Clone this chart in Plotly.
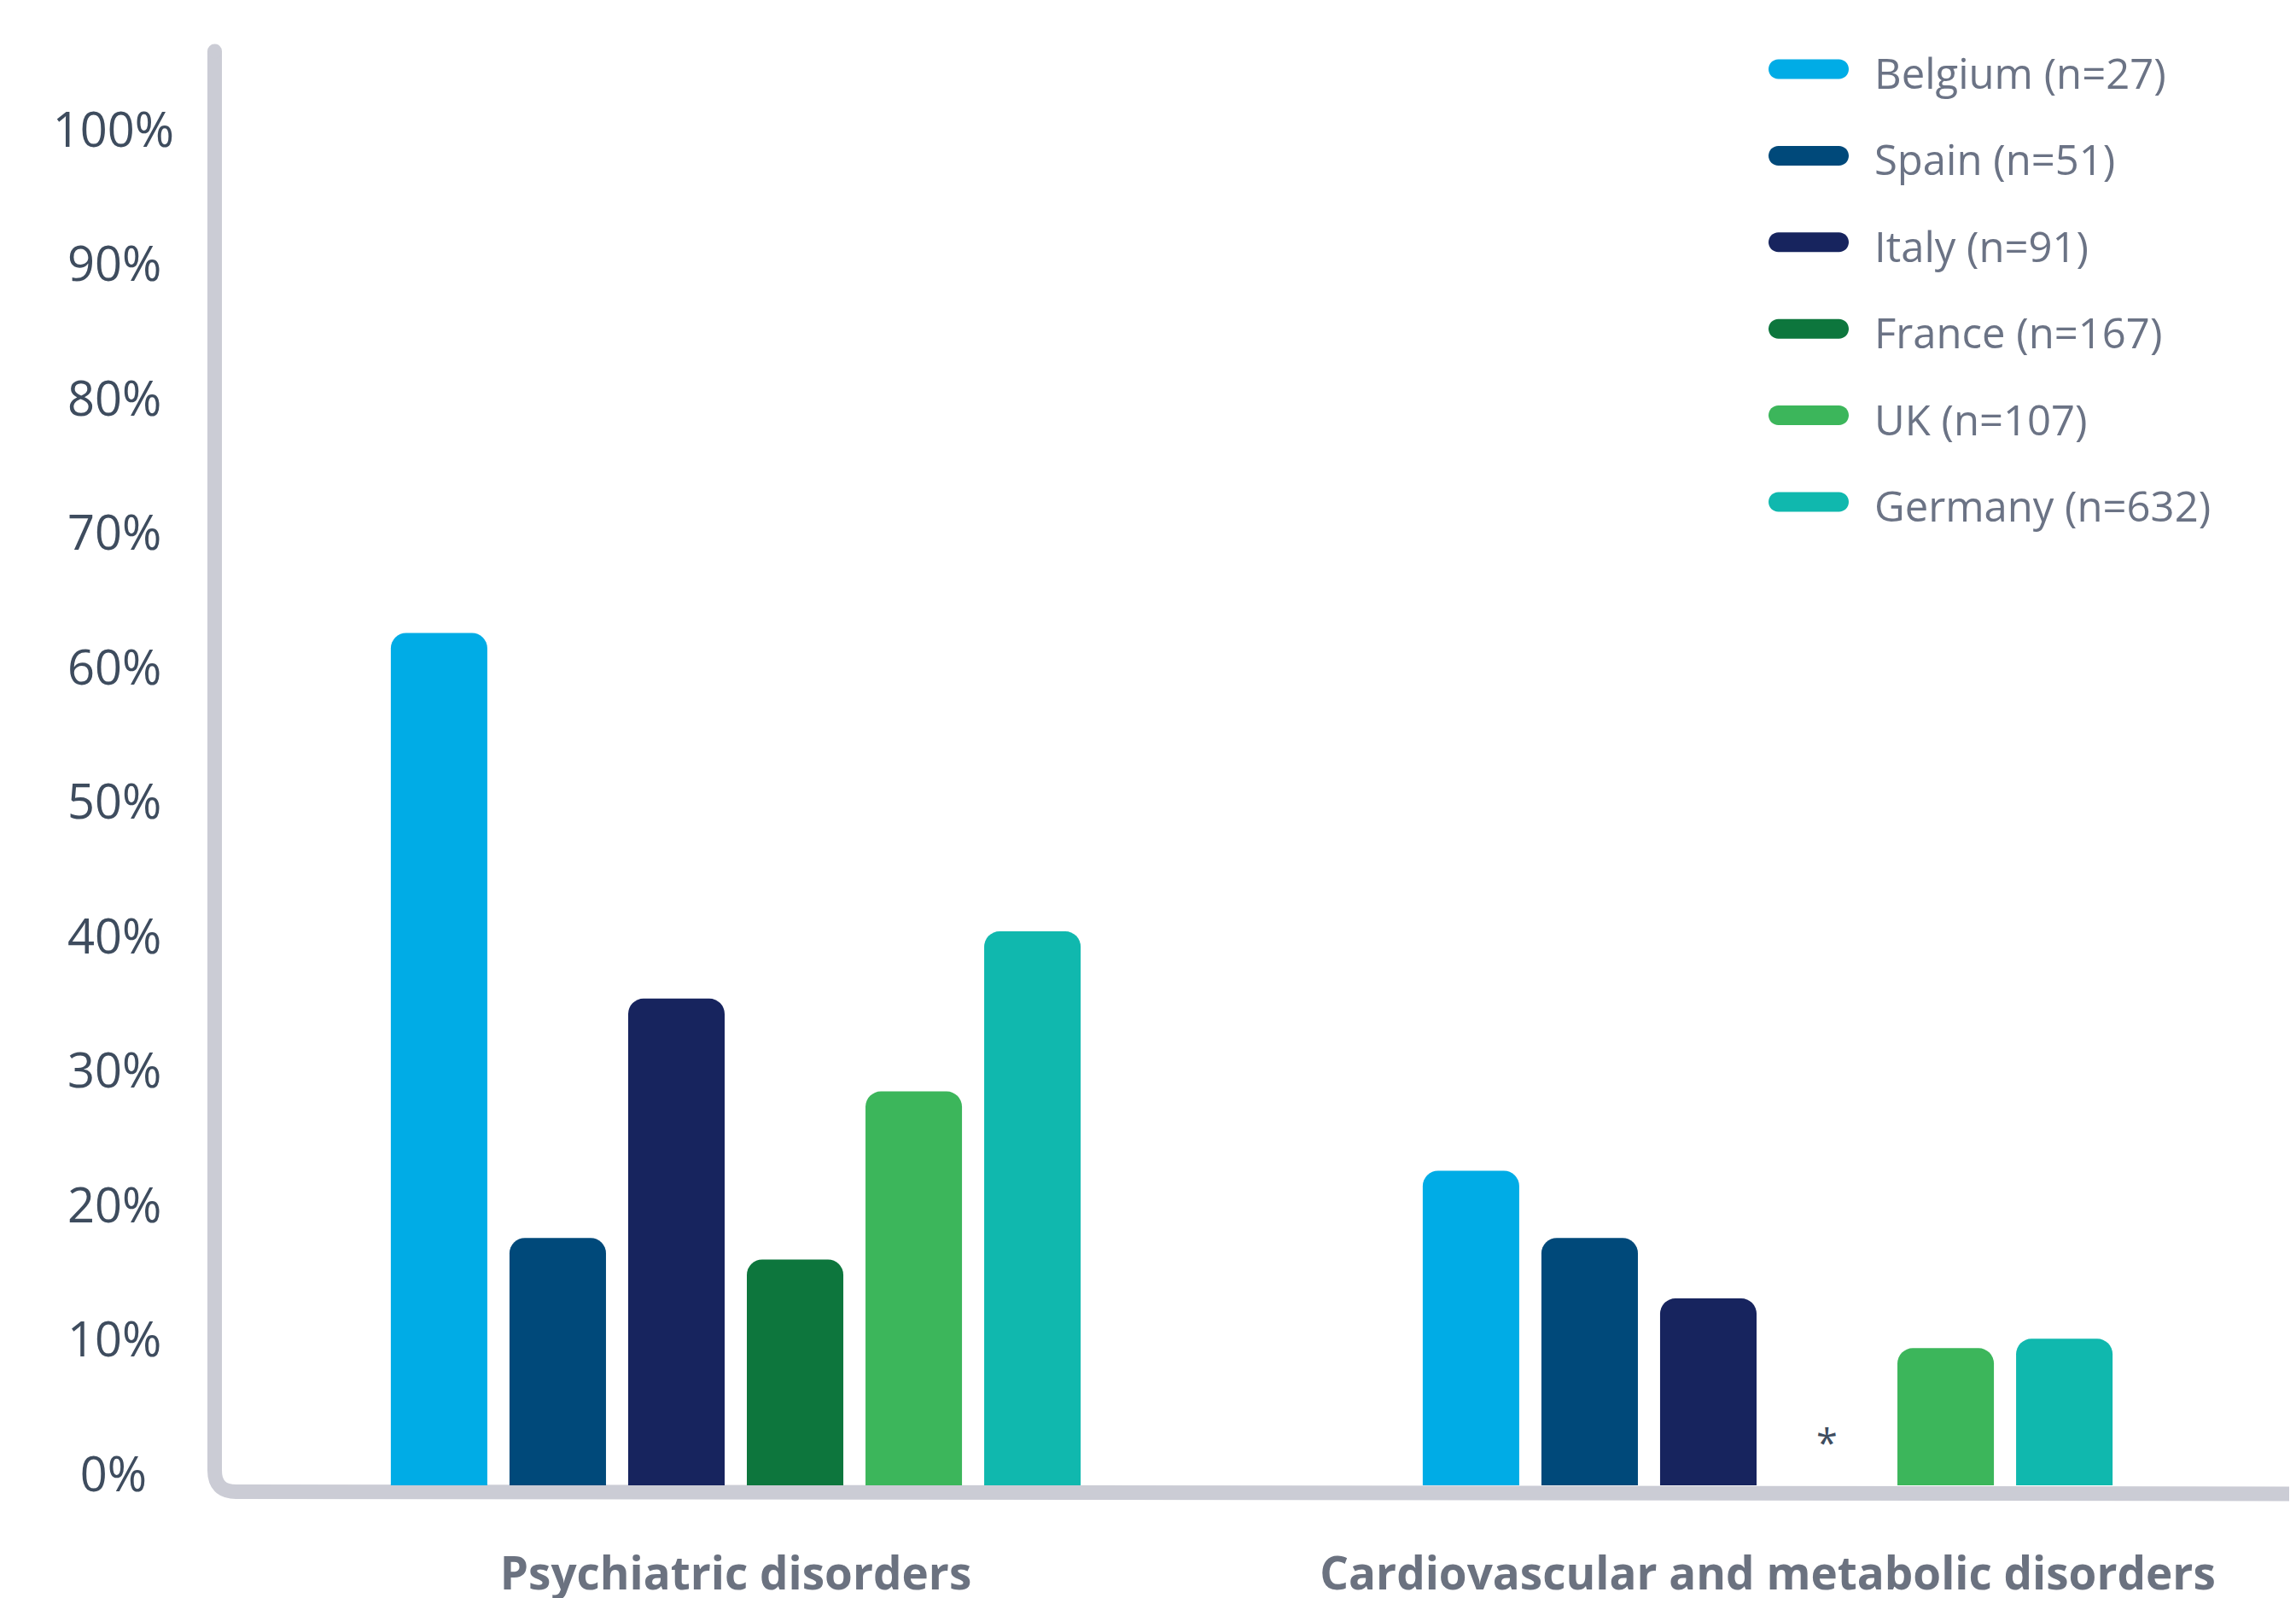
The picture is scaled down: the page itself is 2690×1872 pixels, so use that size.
import plotly.graph_objects as go

# ---------------- data ----------------
categories = ["Psychiatric disorders", "Cardiovascular and metabolic disorders"]
countries = ["Belgium", "Spain", "Italy", "France", "UK", "Germany"]
sample_sizes = [27, 51, 91, 167, 107, 632]
colors = ["#00ACE6", "#00497A", "#17245E", "#0D763D", "#3CB65B", "#10B8AE"]
psychiatric = [63.4, 18.4, 36.2, 16.8, 29.3, 41.2]
cardiometabolic = [23.4, 18.4, 13.9, None, 10.2, 10.9]
missing_marker = "*"          # shown where a value is not reported (France, cardio)
y_tickvals = [0, 10, 20, 30, 40, 50, 60, 70, 80, 90, 100]
y_ticktext = ["0%\u2007", "10%\u2008", "20%\u2008", "30%\u2008", "40%\u2008", "50%\u2008",
              "60%\u2008", "70%\u2008", "80%\u2008", "90%\u2008", "100%"]

# ---------------- layout geometry (pixels, page coordinates) ----------------
W, H = 2690, 1872
OFF = 8                        # page body margin offset
PLOT_LEFT, PLOT_TOP, PLOT_BOTTOM = 252, 30, 1740
ML = PLOT_LEFT - OFF
MT = PLOT_TOP - OFF
MB = H - (PLOT_BOTTOM - OFF)
MR = 0
PW, PH = W - ML - MR, H - MT - MB
PX_PER_CAT = 1209
FIRST_CAT_PX = 862
PX_PER_PCT = 15.75
BARGAP, BARGROUPGAP = 0.31, 0.187

x_lo = -(FIRST_CAT_PX - PLOT_LEFT) / PX_PER_CAT
x_hi = x_lo + PW / PX_PER_CAT
y_hi = PH / PX_PER_PCT

AXIS_COLOR = "#CBCCD5"
TICK_COLOR = "#3E4C5E"
LEG_COLOR = "#6B7385"
CAT_COLOR = "#6B7280"
FONT = "Open Sans"


def px(xp):
    return (xp - PLOT_LEFT) / PW


def py(yp):
    return (PLOT_BOTTOM - yp) / PH


fig = go.Figure()
for i, c in enumerate(countries):
    fig.add_trace(go.Bar(
        name=f"{c} (n={sample_sizes[i]})",
        x=categories,
        y=[psychiatric[i], cardiometabolic[i]],
        marker=dict(color=colors[i], line=dict(width=0), cornerradius=18),
        showlegend=False,
        hovertemplate="%{x}<br>" + c + ": %{y:.1f}%<extra></extra>",
    ))

shapes = []
# axis line with rounded corner
ax_x, ax_top, ax_y, r = 251.5, 60, 1747.5, 25
path = (f"M {px(ax_x)},{py(ax_top)} L {px(ax_x)},{py(ax_y - r)} "
        f"Q {px(ax_x)},{py(ax_y)} {px(ax_x + r)},{py(ax_y)} L {px(W + 20)},{py(ax_y + 2.5)}")
shapes.append(dict(type="path", path=path, xref="paper", yref="paper",
                   line=dict(color=AXIS_COLOR, width=17), layer="below"))
shapes.append(dict(type="circle", xref="paper", yref="paper",
                   x0=px(ax_x - 8.5), x1=px(ax_x + 8.5), y0=py(ax_top - 8.5), y1=py(ax_top + 8.5),
                   fillcolor=AXIS_COLOR, line=dict(width=0), layer="below"))

annotations = []
# custom legend with pill-shaped keys
LX0, LX1, LY0, LDY, LR = 2072, 2166, 81, 101.4, 11.5
k = 0.552 * LR
for i, c in enumerate(countries):
    cy = LY0 + i * LDY
    t, b = cy - LR, cy + LR
    pts = [
        ("M", [(LX0 + LR, t)]),
        ("L", [(LX1 - LR, t)]),
        ("C", [(LX1 - LR + k, t), (LX1, cy - k), (LX1, cy)]),
        ("C", [(LX1, cy + k), (LX1 - LR + k, b), (LX1 - LR, b)]),
        ("L", [(LX0 + LR, b)]),
        ("C", [(LX0 + LR - k, b), (LX0, cy + k), (LX0, cy)]),
        ("C", [(LX0, cy - k), (LX0 + LR - k, t), (LX0 + LR, t)]),
    ]
    d = " ".join(cmd + " " + " ".join(f"{px(a)},{py(bb)}" for a, bb in p) for cmd, p in pts) + " Z"
    shapes.append(dict(type="path", path=d, xref="paper", yref="paper",
                       fillcolor=colors[i], line=dict(width=0)))
    annotations.append(dict(
        text=f"{c} (n={sample_sizes[i]})", xref="paper", yref="paper",
        x=px(2194), y=py(cy + 4), xanchor="left", yanchor="middle", showarrow=False,
        font=dict(family=FONT, size=49, color=LEG_COLOR)))

# marker for the unreported value
fr = countries.index("France")
annotations.append(dict(
    text=missing_marker, xref="x", yref="y",
    x=1 + (fr - 2.5) * (1 - BARGAP) / len(countries), y=0,
    xanchor="center", yanchor="bottom", yshift=18, showarrow=False,
    font=dict(family=FONT, size=45, color=TICK_COLOR)))

fig.update_layout(
    width=W, height=H,
    margin=dict(l=ML, r=MR, t=MT, b=MB, pad=0, autoexpand=False),
    paper_bgcolor="white", plot_bgcolor="white",
    barmode="group", bargap=BARGAP, bargroupgap=BARGROUPGAP,
    shapes=shapes, annotations=annotations,
    showlegend=False,
    xaxis=dict(range=[x_lo, x_hi], showline=False, showgrid=False, zeroline=False,
               automargin=False, ticks="", ticklabelstandoff=68,
               tickfont=dict(family=FONT, size=53, color=CAT_COLOR, weight="bold"),
               fixedrange=True),
    yaxis=dict(range=[0, y_hi], showline=False, showgrid=False, zeroline=False,
               automargin=False, ticks="", tickvals=y_tickvals, ticktext=y_ticktext,
               ticklabelshift=-13, ticklabelstandoff=47,
               tickfont=dict(family=FONT, size=56, color=TICK_COLOR),
               fixedrange=True),
)

fig.write_html("out.html")
